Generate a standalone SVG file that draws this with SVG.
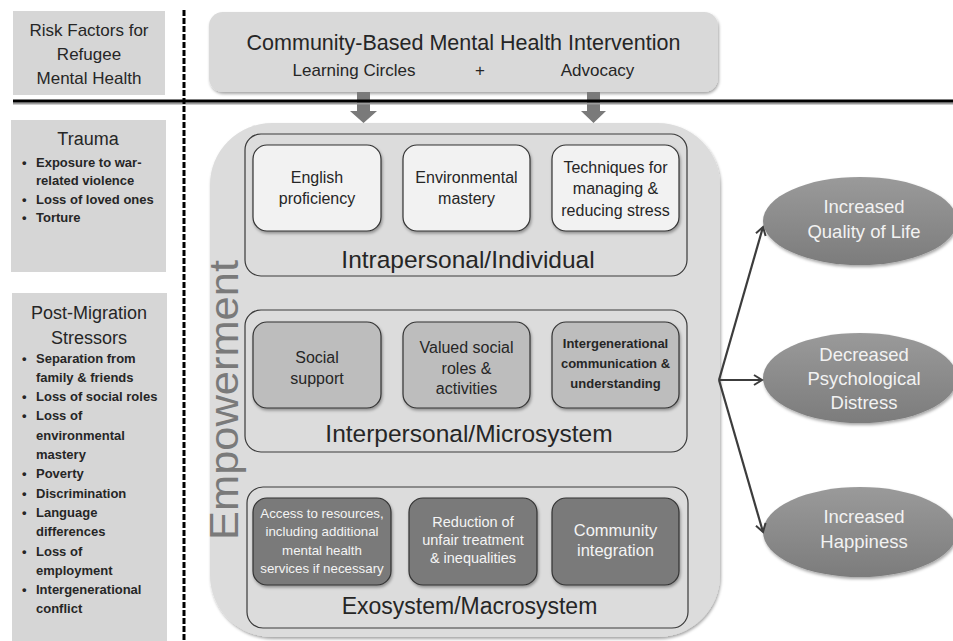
<svg xmlns="http://www.w3.org/2000/svg" width="953" height="641" viewBox="0 0 953 641">
<style>
text{font-family:"Liberation Sans",Arial,sans-serif;fill:#262626}
.c{text-anchor:middle}
.panel{fill:#d6d6d6}
.ttl{font-size:18px}
.bul{font-size:13px;font-weight:bold}
.grp{fill:none;stroke:#3a3a3a;stroke-width:1.2}
.lt{fill:#f2f2f2;stroke:#333;stroke-width:1.2}
.md{fill:#bdbdbd;stroke:#333;stroke-width:1.2}
.dk{fill:#7a7a7a;stroke:#333;stroke-width:1.2}
.wt{fill:#f4f4f4}
.t16{font-size:16px}
.lbl{font-size:24px}
.ell{fill:url(#eg)}
.et{font-size:18.5px;fill:#f2f2f2;text-anchor:middle}
.con{stroke:#3c3c3c;stroke-width:2.2;fill:none;marker-end:url(#ah)}
.blk{fill:#7a7a7a}
</style>
<defs>
<filter id="sh" x="-10%" y="-10%" width="125%" height="130%">
<feDropShadow dx="1" dy="2" stdDeviation="1.8" flood-color="#000" flood-opacity="0.35"/>
</filter>
<linearGradient id="eg" x1="0" y1="0" x2="0" y2="1">
<stop offset="0" stop-color="#9a9a9a"/>
<stop offset="1" stop-color="#7c7c7c"/>
</linearGradient>
<marker id="ah" markerWidth="12" markerHeight="12" refX="10" refY="6" orient="auto" markerUnits="userSpaceOnUse">
<path d="M2,1 L10,6 L2,11" fill="none" stroke="#3c3c3c" stroke-width="2"/>
</marker>
</defs>

<!-- left panels -->
<g id="risk-factors">
<rect class="panel" x="13" y="11" width="152" height="84"/>
<text class="c" x="89" y="36" style="font-size:17px">Risk Factors for</text>
<text class="c" x="89" y="60" style="font-size:17px">Refugee</text>
<text class="c" x="89" y="84" style="font-size:17px">Mental Health</text>
</g>
<g id="trauma">
<rect class="panel" x="11" y="120" width="155" height="152"/>
<text class="c ttl" x="88" y="144.5">Trauma</text>
<text class="bul" x="22" y="166.5">•</text><text class="bul" x="36" y="166.5">Exposure to war-</text>
<text class="bul" x="36" y="185">related violence</text>
<text class="bul" x="22" y="203.5">•</text><text class="bul" x="36" y="203.5">Loss of loved ones</text>
<text class="bul" x="22" y="222">•</text><text class="bul" x="36" y="222">Torture</text>
</g>
<g id="post-migration">
<rect class="panel" x="12" y="293" width="155" height="360"/>
<text class="c ttl" x="89" y="318.5">Post-Migration</text>
<text class="c ttl" x="89" y="343.5">Stressors</text>
<text class="bul" x="22" y="362.5">•</text><text class="bul" x="36" y="362.5">Separation from</text>
<text class="bul" x="36" y="381.8">family &amp; friends</text>
<text class="bul" x="22" y="401.1">•</text><text class="bul" x="36" y="401.1">Loss of social roles</text>
<text class="bul" x="22" y="420.4">•</text><text class="bul" x="36" y="420.4">Loss of</text>
<text class="bul" x="36" y="439.7">environmental</text>
<text class="bul" x="36" y="459">mastery</text>
<text class="bul" x="22" y="478.3">•</text><text class="bul" x="36" y="478.3">Poverty</text>
<text class="bul" x="22" y="497.6">•</text><text class="bul" x="36" y="497.6">Discrimination</text>
<text class="bul" x="22" y="516.9">•</text><text class="bul" x="36" y="516.9">Language</text>
<text class="bul" x="36" y="536.2">differences</text>
<text class="bul" x="22" y="555.5">•</text><text class="bul" x="36" y="555.5">Loss of</text>
<text class="bul" x="36" y="574.8">employment</text>
<text class="bul" x="22" y="594.1">•</text><text class="bul" x="36" y="594.1">Intergenerational</text>
<text class="bul" x="36" y="613.4">conflict</text>
</g>

<!-- top intervention -->
<g id="intervention">
<rect x="209" y="12" width="509" height="80" rx="14" fill="#d9d9d9" filter="url(#sh)"/>
<text class="c" x="463.5" y="49.5" style="font-size:21.5px">Community-Based Mental Health Intervention</text>
<text class="c" x="354" y="76" style="font-size:17px">Learning Circles</text>
<text class="c" x="480" y="76" style="font-size:17px">+</text>
<text class="c" x="597.5" y="76" style="font-size:17px">Advocacy</text>
</g>

<!-- block arrows -->
<g id="block-arrows">
<path class="blk" d="M357,92 H370 V111 H377 L363.5,123 L350,111 H357 Z"/>
<path class="blk" d="M587,92 H600 V111 H606 L593.5,123 L581,111 H587 Z"/>
</g>

<!-- dividers -->
<g id="dividers">
<line x1="13" y1="103.5" x2="953" y2="103.5" stroke="#9a9a9a" stroke-width="2"/>
<line x1="13" y1="101" x2="953" y2="101" stroke="#000" stroke-width="3"/>
<line x1="184" y1="10" x2="184" y2="641" stroke="#000" stroke-width="3" stroke-dasharray="6 2"/>
</g>

<!-- empowerment -->
<g id="empowerment">
<rect x="210" y="123" width="510" height="514" rx="62" fill="#dcdcdc" filter="url(#sh)"/>
<text class="c" transform="translate(238,400) rotate(-90)" x="0" y="0" style="font-size:41px;fill:#7a7a7a" textLength="280" lengthAdjust="spacingAndGlyphs">Empowerment</text>
</g>

<g id="intrapersonal">
<rect class="grp" x="245" y="134" width="442" height="142" rx="16"/>
<text class="c" x="468" y="267.5" style="font-size:24.5px">Intrapersonal/Individual</text>
</g>
<g id="english">
<rect class="lt" x="253" y="145" width="128" height="86" rx="14" filter="url(#sh)"/>
<text class="c t16" x="317" y="182.5">English</text>
<text class="c t16" x="317" y="203.5">proficiency</text>
</g>
<g id="environmental">
<rect class="lt" x="403" y="145" width="127" height="86" rx="14" filter="url(#sh)"/>
<text class="c t16" x="466.5" y="182.5">Environmental</text>
<text class="c t16" x="466.5" y="203.5">mastery</text>
</g>
<g id="techniques">
<rect class="lt" x="552" y="145" width="127" height="86" rx="14" filter="url(#sh)"/>
<text class="c t16" x="615.5" y="172.5">Techniques for</text>
<text class="c t16" x="615.5" y="194">managing &amp;</text>
<text class="c t16" x="615.5" y="215.5">reducing stress</text>
</g>

<g id="interpersonal">
<rect class="grp" x="245" y="310" width="442" height="142" rx="16"/>
<text class="c" x="469" y="442" style="font-size:24.5px">Interpersonal/Microsystem</text>
</g>
<g id="social-support">
<rect class="md" x="253" y="322" width="128" height="86" rx="14" filter="url(#sh)"/>
<text class="c t16" x="317" y="362.5">Social</text>
<text class="c t16" x="317" y="383.5">support</text>
</g>
<g id="valued-roles">
<rect class="md" x="403" y="322" width="127" height="86" rx="14" filter="url(#sh)"/>
<text class="c t16" x="466.5" y="352.5">Valued social</text>
<text class="c t16" x="466.5" y="373.5">roles &amp;</text>
<text class="c t16" x="466.5" y="394">activities</text>
</g>
<g id="intergenerational">
<rect class="md" x="552" y="322" width="127" height="86" rx="14" filter="url(#sh)"/>
<text class="c bul" x="615.5" y="347.5">Intergenerational</text>
<text class="c bul" x="615.5" y="367.5">communication &amp;</text>
<text class="c bul" x="615.5" y="387.5">understanding</text>
</g>

<g id="exosystem">
<rect class="grp" x="247" y="487" width="441" height="141" rx="16"/>
<text class="c" x="469.5" y="613.5" style="font-size:23px">Exosystem/Macrosystem</text>
</g>
<g id="access-resources">
<rect class="dk" x="253" y="498" width="138" height="87" rx="14" filter="url(#sh)"/>
<text class="c wt" x="322" y="517.5" style="font-size:13.3px">Access to resources,</text>
<text class="c wt" x="322" y="536" style="font-size:13.3px">including additional</text>
<text class="c wt" x="322" y="554.5" style="font-size:13.3px">mental health</text>
<text class="c wt" x="322" y="573" style="font-size:13.3px">services if necessary</text>
</g>
<g id="reduction">
<rect class="dk" x="409" y="498" width="128" height="87" rx="14" filter="url(#sh)"/>
<text class="c wt" x="473" y="527" style="font-size:14.5px">Reduction of</text>
<text class="c wt" x="473" y="545" style="font-size:14.5px">unfair treatment</text>
<text class="c wt" x="473" y="563" style="font-size:14.5px">&amp; inequalities</text>
</g>
<g id="community-integration">
<rect class="dk" x="552" y="498" width="127" height="87" rx="14" filter="url(#sh)"/>
<text class="c wt" x="615.5" y="535.5" style="font-size:16.5px">Community</text>
<text class="c wt" x="615.5" y="555.5" style="font-size:16.5px">integration</text>
</g>

<!-- outcomes -->
<g id="quality-of-life">
<ellipse class="ell" cx="860" cy="221" rx="97" ry="44" filter="url(#sh)"/>
<text class="et" x="864" y="213">Increased</text>
<text class="et" x="864" y="238">Quality of Life</text>
</g>
<g id="psych-distress">
<ellipse class="ell" cx="860" cy="378" rx="97" ry="45" filter="url(#sh)"/>
<text class="et" x="864" y="361">Decreased</text>
<text class="et" x="864" y="384.5">Psychological</text>
<text class="et" x="864" y="409">Distress</text>
</g>
<g id="happiness">
<ellipse class="ell" cx="860" cy="532" rx="97" ry="45" filter="url(#sh)"/>
<text class="et" x="864" y="523">Increased</text>
<text class="et" x="864" y="548">Happiness</text>
</g>

<g id="connectors">
<line class="con" x1="719" y1="380" x2="763" y2="227"/>
<line class="con" x1="719" y1="380" x2="762" y2="380"/>
<line class="con" x1="719" y1="380" x2="763" y2="532"/>
</g>
</svg>
